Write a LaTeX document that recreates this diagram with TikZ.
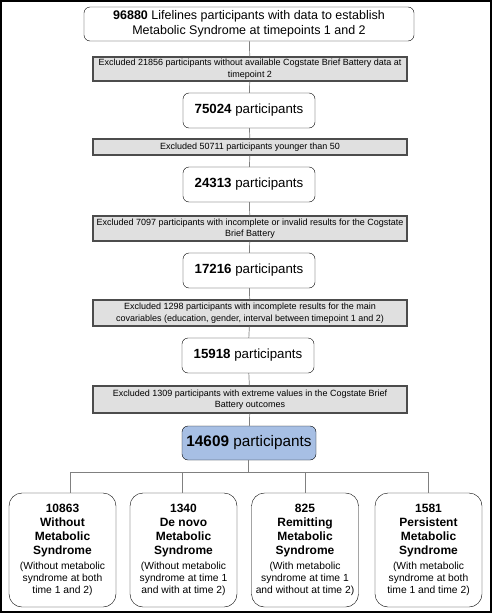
\documentclass[tikz,border=0pt]{standalone}
\usepackage{fontspec}
\setmainfont{Liberation Sans}
\usepackage{tikz}

\definecolor{exclgray}{RGB}{224,224,224}
\definecolor{finalblue}{RGB}{167,191,228}
\definecolor{linegray}{RGB}{128,128,128}
\newcommand{\grpnote}[1]{{\fontsize{10.3}{12}\selectfont\mdseries #1}}

\begin{document}
\begin{tikzpicture}[x=1pt,y=-1pt,
    count/.style={draw=black,rounded corners=6pt,fill=white,align=center,
        inner sep=0pt,minimum width=132pt,minimum height=35pt,font=\fontsize{13.3}{15}\selectfont},
    excl/.style={draw=black!70,line width=1.2pt,fill=exclgray,align=center,
        inner sep=0pt,minimum width=314pt,font=\fontsize{9}{11.5}\selectfont},
    group/.style={draw=black,rounded corners=13pt,fill=white,align=center,
        inner sep=0pt,minimum width=107pt,minimum height=114pt,
        font=\fontsize{12}{14}\selectfont\bfseries},
    link/.style={draw=linegray,line width=0.7pt}]
      \useasboundingbox (0,0) rectangle (492,613);
      \draw[line width=2pt] (1,1) rectangle (491,612);
      \node[count,minimum width=330pt,minimum height=34pt,font=\fontsize{12.5}{15.5}\selectfont]
        (start) at (249,24) {\textbf{96880} Lifelines participants with data to establish\\
        Metabolic Syndrome at timepoints 1 and 2};
      \node[excl,minimum height=24pt] (excl1) at (250,69)
        {Excluded 21856 participants without available Cogstate Brief Battery data at\\timepoint 2};
      \node[count] (n75024) at (249,110.5) {\textbf{75024} participants};
      \node[excl,minimum height=16pt] (excl2) at (250,147)
        {Excluded 50711 participants younger than 50};
      \node[count] (n24313) at (249,184.5) {\textbf{24313} participants};
      \node[excl,minimum height=25pt] (excl3) at (250,228.5)
        {Excluded 7097 participants with incomplete or invalid results for the Cogstate\\Brief Battery};
      \node[count] (n17216) at (249,270.5) {\textbf{17216} participants};
      \node[excl,minimum height=26pt] (excl4) at (250,313)
        {Excluded 1298 participants with incomplete results for the main\\covariables (education, gender, interval between timepoint 1 and 2)};
      \node[count] (n15918) at (248,355.5) {\textbf{15918} participants};
      \node[excl,minimum height=27pt] (excl5) at (250,399.5)
        {Excluded 1309 participants with extreme values in the Cogstate Brief\\Battery outcomes};
      \node[count,fill=finalblue,minimum width=134pt,minimum height=34pt,font=\fontsize{15.3}{18}\selectfont]
        (final) at (249,443) {\textbf{14609} participants};
      \node[group] (without) at (62.5,550) {10863\\Without\\Metabolic\\Syndrome\\[1pt]
        \grpnote{(Without metabolic}\\[-2pt]\grpnote{syndrome at both}\\[-2pt]\grpnote{time 1 and 2)}};
      \node[group] (denovo) at (183.5,550) {1340\\De novo\\Metabolic\\Syndrome\\[1pt]
        \grpnote{(Without metabolic}\\[-2pt]\grpnote{syndrome at time 1}\\[-2pt]\grpnote{and with at time 2)}};
      \node[group] (remit) at (305,550) {825\\Remitting\\Metabolic\\Syndrome\\[1pt]
        \grpnote{(With metabolic}\\[-2pt]\grpnote{syndrome at time 1}\\[-2pt]\grpnote{and without at time 2)}};
      \node[group] (persist) at (428.5,550) {1581\\Persistent\\Metabolic\\Syndrome\\[1pt]
        \grpnote{(With metabolic}\\[-2pt]\grpnote{syndrome at both}\\[-2pt]\grpnote{time 1 and time 2)}};
      \coordinate (split) at (248,472);
      \coordinate (drop1) at (70,472);
      \coordinate (drop2) at (182,472);
      \coordinate (drop3) at (305,472);
      \coordinate (drop4) at (428,472);
      \path
      (start) edge [link] (excl1)
      (excl1) edge [link] (n75024)
      (n75024) edge [link] (excl2)
      (excl2) edge [link] (n24313)
      (n24313) edge [link] (excl3)
      (excl3) edge [link] (n17216)
      (n17216) edge [link] (excl4)
      (excl4) edge [link] (n15918)
      (n15918) edge [link] (excl5)
      (excl5) edge [link] (final)
      (final.south -| split) edge [link] (split);
      \draw[link] (drop1) -- (drop4);
      \path
      (drop1) edge [link] (drop1 |- without.north)
      (drop2) edge [link] (drop2 |- denovo.north)
      (drop3) edge [link] (drop3 |- remit.north)
      (drop4) edge [link] (drop4 |- persist.north);
    \end{tikzpicture}
\end{document}
